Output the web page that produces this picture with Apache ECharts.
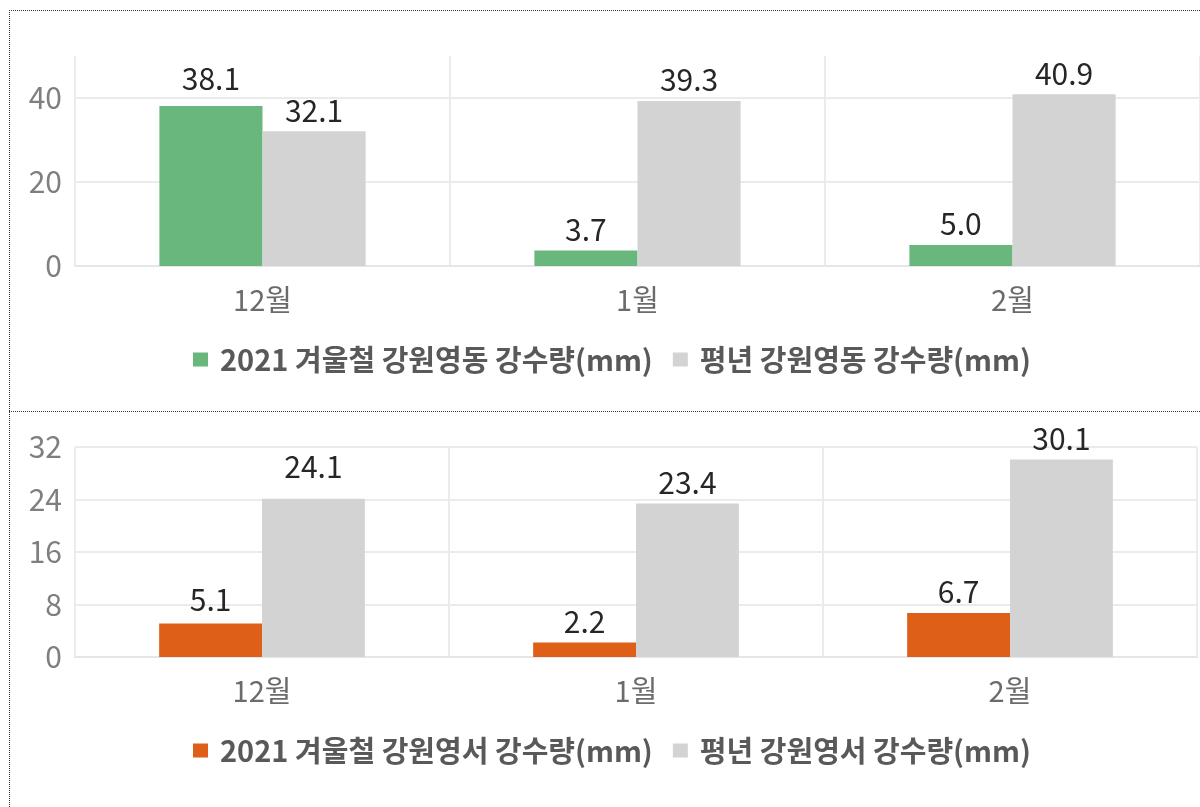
<!DOCTYPE html>
<html><head><meta charset="utf-8">
<script src="https://cdn.jsdelivr.net/npm/echarts@6/dist/echarts.min.js"></script>
<style>html,body{margin:0;padding:0;background:#fff}#c{width:1200px;height:807px}</style>
</head><body><div id="c"></div>
<script>
const categories = ['12월', '1월', '2월'];
const eastName2021 = '2021 겨울철 강원영동 강수량(mm)';
const eastNameNormal = '평년 강원영동 강수량(mm)';
const westName2021 = '2021 겨울철 강원영서 강수량(mm)';
const westNameNormal = '평년 강원영서 강수량(mm)';
const east2021 = [38.1, 3.7, 5.0];
const eastNormal = [32.1, 39.3, 40.9];
const west2021 = [5.1, 2.2, 6.7];
const westNormal = [24.1, 23.4, 30.1];

const FONT = '"Noto Sans CJK KR","Noto Sans",sans-serif';
const GREEN = '#6ab77e', ORANGE = '#dd5f18', GRAY = '#d3d3d3';
const GRID_LINE = '#ebebeb';

const chart = echarts.init(document.getElementById('c'));
function xAxis(gi) {
  return {
    type: 'category', gridIndex: gi, data: categories,
    axisLine: { show: true, lineStyle: { color: '#e6e6e6', width: 2 } },
    axisTick: { show: false },
    splitLine: { show: true, lineStyle: { color: GRID_LINE, width: 2 } },
    axisLabel: { color: '#6b6b6b', fontSize: 29, fontFamily: FONT, margin: 19 }
  };
}
function yAxis(gi, max, interval, showMax) {
  return {
    type: 'value', gridIndex: gi, min: 0, max: max, interval: interval,
    axisLine: { show: false }, axisTick: { show: false },
    splitLine: { show: true, showMaxLine: showMax, lineStyle: { color: GRID_LINE, width: 2 } },
    axisLabel: { color: '#7f7f7f', fontSize: 30, fontFamily: FONT, margin: 13, showMaxLabel: showMax,
      formatter: v => (v % interval === 0 ? String(v) : '') }
  };
}
// extraLift: optional per-index extra label distance (styling only)
function bar(name, data, color, xi, yi, extraLift) {
  return {
    name: name, type: 'bar', xAxisIndex: xi, yAxisIndex: yi,
    data: data.map((v, i) => (extraLift && extraLift[i]) ? { value: v, label: { distance: 6 + extraLift[i] } } : v),
    barGap: '0%', barCategoryGap: '45%',
    itemStyle: { color: color },
    label: { show: true, position: 'top', distance: 6, color: '#262626', fontSize: 30, fontFamily: FONT,
      formatter: p => Number(p.value).toFixed(1) },
    emphasis: { disabled: true }, animation: false
  };
}
const legendText = { color: '#595959', fontSize: 29, fontWeight: 'bold', fontFamily: FONT, padding: [0, 0, 0, 7] };
chart.setOption({
  animation: false,
  grid: [
    { left: 75, top: 56, right: 0, height: 210 },
    { left: 75, top: 447, right: 3, height: 210 }
  ],
  xAxis: [xAxis(0), xAxis(1)],
  yAxis: [yAxis(0, 50, 20, false), yAxis(1, 32, 8, true)],
  legend: [
    { data: [eastName2021, eastNameNormal], top: 340, left: 188, itemWidth: 15, itemHeight: 14, itemGap: 20,
      icon: 'rect', textStyle: legendText, selectedMode: false },
    { data: [westName2021, westNameNormal], top: 731, left: 188, itemWidth: 15, itemHeight: 14, itemGap: 20,
      icon: 'rect', textStyle: legendText, selectedMode: false }
  ],
  series: [
    bar(eastName2021, east2021, GREEN, 0, 0, { 0: 6 }),
    bar(eastNameNormal, eastNormal, GRAY, 0, 0),
    bar(westName2021, west2021, ORANGE, 1, 1, { 0: 3 }),
    bar(westNameNormal, westNormal, GRAY, 1, 1, { 0: 11 })
  ],
  graphic: [
    { type: 'line', shape: { x1: 9, y1: 10.5, x2: 1200, y2: 10.5 }, style: { stroke: '#333', lineWidth: 1, lineDash: [1, 1] } },
    { type: 'line', shape: { x1: 9, y1: 411.5, x2: 1200, y2: 411.5 }, style: { stroke: '#333', lineWidth: 1, lineDash: [1, 1] } },
    { type: 'line', shape: { x1: 9.5, y1: 10, x2: 9.5, y2: 807 }, style: { stroke: '#333', lineWidth: 1, lineDash: [1, 1] } }
  ]
});
</script></body></html>
